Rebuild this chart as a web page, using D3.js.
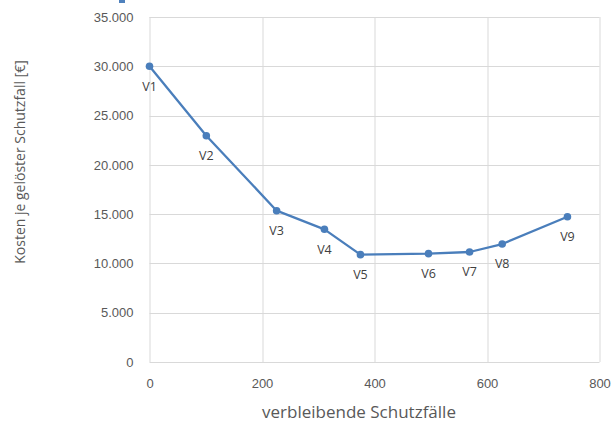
<!DOCTYPE html>
<html>
<head>
<meta charset="utf-8">
<script src="https://cdn.jsdelivr.net/npm/d3@7"></script>
<style>
  body { margin: 0; background: #fff; }
  svg { display: block; font-family: "Open Sans", sans-serif; }
  .tick text { fill: #595959; font-size: 13px; }
  .grid line { stroke: #d9d9d9; stroke-width: 1; }
  .axisTitle { fill: #595959; font-size: 14px; }
  .ptLabel { fill: #404040; font-size: 12.5px; }
</style>
</head>
<body>
<div class="chart"></div>
<script>
// data
var names = ["V1", "V2", "V3", "V4", "V5", "V6", "V7", "V8", "V9"];
var remaining = [0, 101, 226, 311, 375, 496, 569, 627, 743];
var costs = [30000, 22960, 15350, 13460, 10890, 10990, 11160, 11970, 14740];
var xTicks = [0, 200, 400, 600, 800];
var yTicks = [0, 5000, 10000, 15000, 20000, 25000, 30000, 35000];

var svgWidth = 613;
var svgHeight = 429;
var margin = {top: 17, right: 14, bottom: 67, left: 149.5};
var chartWidth = 599.5 - margin.left;
var chartHeight = 362 - margin.top;

var svg = d3.select(".chart").append("svg")
    .attr("width", svgWidth)
    .attr("height", svgHeight);

// small blue fragment at the top edge of the original crop
svg.append("rect")
    .attr("x", 119).attr("y", 0)
    .attr("width", 6).attr("height", 3)
    .attr("fill", "#4f81bd");

var chart = svg.append("g")
    .attr("transform", "translate(" + margin.left + "," + margin.top + ")");

var x = d3.scaleLinear().domain([0, 800]).range([0, chartWidth]);
var y = d3.scaleLinear().domain([0, 35000]).range([chartHeight, 0]);

var fmt = function(d) { return d3.format(",")(d).replace(/,/g, "."); };

// gridlines
chart.append("g").attr("class", "grid")
  .selectAll("line").data(yTicks).enter().append("line")
    .attr("x1", 0).attr("x2", chartWidth)
    .attr("y1", function(d) { return Math.round(y(d)) + 0.5; })
    .attr("y2", function(d) { return Math.round(y(d)) + 0.5; });

chart.append("g").attr("class", "grid")
  .selectAll("line").data(xTicks).enter().append("line")
    .attr("y1", 0).attr("y2", chartHeight)
    .attr("x1", function(d) { return Math.round(x(d)) + 0.5; })
    .attr("x2", function(d) { return Math.round(x(d)) + 0.5; });

// axes (labels only)
var leftAxis = d3.axisLeft(y).tickValues(yTicks).tickFormat(fmt).tickSize(0).tickPadding(16);
var bottomAxis = d3.axisBottom(x).tickValues(xTicks).tickFormat(d3.format("d")).tickSize(0).tickPadding(17);

chart.append("g").call(leftAxis).call(function(g) { g.select(".domain").remove(); });
chart.append("g")
    .attr("transform", "translate(0," + chartHeight + ")")
    .call(bottomAxis)
    .call(function(g) { g.select(".domain").remove(); });

// line + markers
var pts = remaining.map(function(d, i) { return {x: d, y: costs[i], name: names[i]}; });

chart.append("path")
    .datum(pts)
    .attr("fill", "none")
    .attr("stroke", "#4a7ebb")
    .attr("stroke-width", 2.3)
    .attr("stroke-linejoin", "round")
    .attr("d", d3.line().x(function(d) { return x(d.x); }).y(function(d) { return y(d.y); }));

chart.selectAll("circle").data(pts).enter().append("circle")
    .attr("cx", function(d) { return x(d.x); })
    .attr("cy", function(d) { return y(d.y); })
    .attr("r", 3.8)
    .attr("fill", "#4a7ebb");

chart.selectAll(".ptLabel").data(pts).enter().append("text")
    .attr("class", "ptLabel")
    .attr("x", function(d) { return x(d.x); })
    .attr("y", function(d) { return y(d.y) + 20; })
    .attr("dy", "0.35em")
    .attr("text-anchor", "middle")
    .text(function(d) { return d.name; });

// axis titles
svg.append("text")
    .attr("class", "axisTitle")
    .style("font-size", "17px")
    .attr("x", 359)
    .attr("y", 412)
    .attr("dy", "0.35em")
    .attr("text-anchor", "middle")
    .text("verbleibende Schutzfälle");

svg.append("text")
    .attr("class", "axisTitle")
    .attr("transform", "translate(20,162) rotate(-90)")
    .attr("dy", "0.35em")
    .attr("text-anchor", "middle")
    .text("Kosten je gelöster Schutzfall [€]");
</script>
</body>
</html>
